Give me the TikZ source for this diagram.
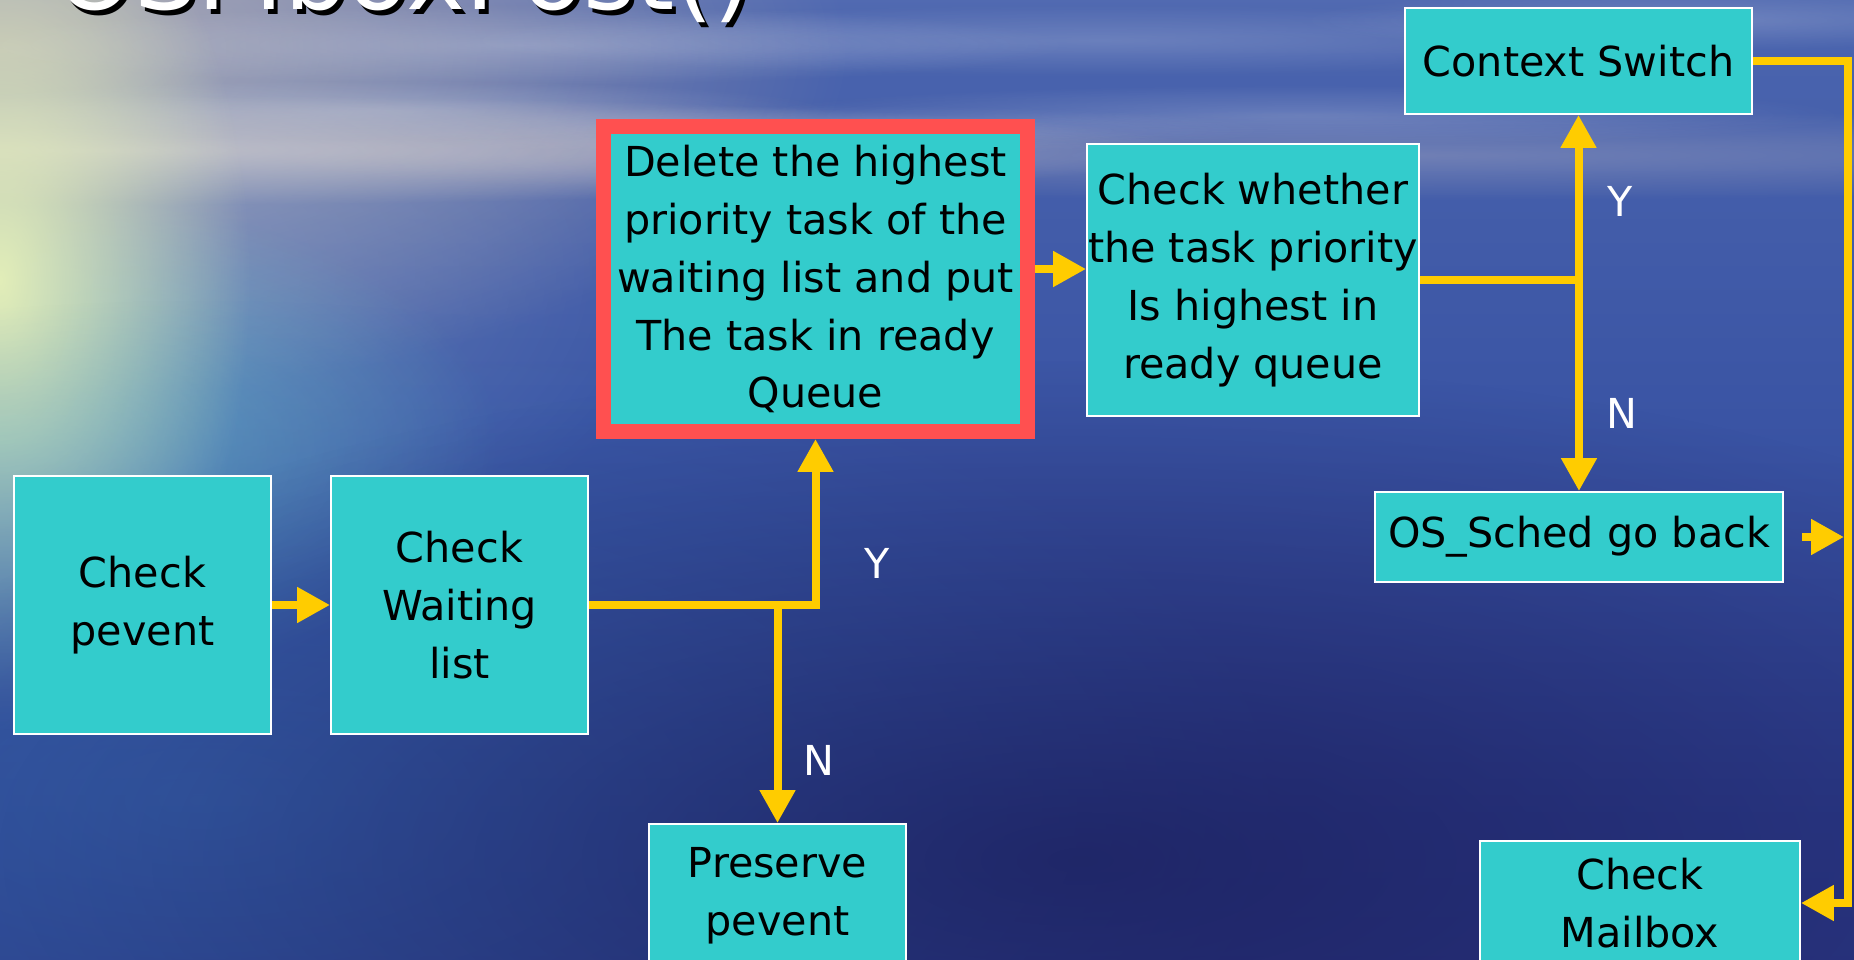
\documentclass[tikz,border=0pt]{standalone}
\usepackage{fontspec}
\setmainfont{DejaVu Sans}
\usetikzlibrary{arrows.meta,fadings,calc}

% palette
\definecolor{boxcyan}{HTML}{33CCCC}
\definecolor{hotred}{HTML}{FF5050}
\definecolor{arrowgold}{HTML}{FFCC00}
\definecolor{sk0}{HTML}{5A68BC}
\definecolor{sk1}{HTML}{5A6ABA}
\definecolor{sk2}{HTML}{A2A6CC}
\definecolor{sk3}{HTML}{6C80BC}
\definecolor{sk4}{HTML}{4A64AE}
\definecolor{sk5}{HTML}{3A54A4}
\definecolor{sk6}{HTML}{2C3C8C}
\definecolor{sk7}{HTML}{262C74}
\definecolor{sunglow}{HTML}{E8F2B8}
\definecolor{tealglow}{HTML}{70CACA}
\definecolor{mistblue}{HTML}{8EA6C8}
\definecolor{hazeglow}{HTML}{C4B8B4}
\definecolor{horizonlight}{HTML}{F2E2D4}
\definecolor{deepsea}{HTML}{1A1C58}
\definecolor{shoreblue}{HTML}{3A70B8}

% sky and sea, bottom (0bp) to top (100bp)
\pgfdeclareverticalshading{seasky}{100bp}{
  color(0bp)=(sk7); color(32.3bp)=(sk6); color(53.1bp)=(sk5);
  color(72.9bp)=(sk4); color(83.3bp)=(sk3); color(84.6bp)=(sk2);
  color(86.5bp)=(sk1); color(100bp)=(sk0)}

% radial fade: opaque centre, clear at half the radius
\tikzfading[name=softglow, inner color=transparent!0, outer color=transparent!100]

\begin{document}
\begin{tikzpicture}[x=0.02cm, y=-0.02cm,
  box/.style={draw=white, line width=1.1pt, fill=boxcyan, inner sep=0pt,
    align=center, text=black, font=\fontsize{23.5}{33}\selectfont},
  redbox/.style={box, draw=hotred, line width=0.3cm},
  flow/.style={draw=arrowgold, line width=0.16cm},
  tip/.style={-{Triangle[length=0.66cm, width=0.68cm]}},
  lab/.style={text=white, inner sep=0pt, font=\fontsize{23.5}{33}\selectfont},
  headline/.style={anchor=base west, inner sep=0pt, font=\fontsize{57}{60}\selectfont},
  glow/.style={path fading=softglow, fill opacity=#1},
  glow/.default=0.6]

\useasboundingbox (0,0) rectangle (1854,960);
\clip (0,0) rectangle (1854,960);

% backdrop: sky, horizon and sea
\shade[shading=seasky] (0,0) rectangle (1854,960);
\fill[hazeglow, glow=0.9] (0,50) ellipse [x radius=17cm, y radius=7cm];
\fill[white, glow=0.22] (520,45) ellipse [x radius=11cm, y radius=0.8cm];
\fill[white, glow=0.22] (380,110) ellipse [x radius=9cm, y radius=0.6cm];
\fill[white, glow=0.18] (1100,40) ellipse [x radius=13cm, y radius=0.7cm];
\fill[white, glow=0.18] (1300,115) ellipse [x radius=11cm, y radius=0.6cm];
\fill[white, glow=0.15] (820,130) ellipse [x radius=9cm, y radius=0.5cm];
\fill[white, glow=0.18] (1700,20) ellipse [x radius=8cm, y radius=0.6cm];
\fill[horizonlight, glow=0.7] (100,150) ellipse [x radius=22cm, y radius=1.1cm];
\fill[horizonlight, glow=0.25] (1400,155) ellipse [x radius=24cm, y radius=0.9cm];
\fill[mistblue, glow=0.55] (40,270) ellipse [x radius=13cm, y radius=7cm];
\fill[tealglow, glow=0.75] (0,440) ellipse [x radius=10cm, y radius=5cm];
\fill[sunglow, glow=0.95] (0,280) ellipse [x radius=5cm, y radius=9cm];
\fill[shoreblue, glow=0.65] (200,800) ellipse [x radius=22cm, y radius=10cm];
\fill[deepsea, glow=0.7] (1080,860) ellipse [x radius=26cm, y radius=10cm];

% title, mostly above the frame
\node[headline, text=black] (titleshadow) at (59,14) {OSMboxPost()};
\node[headline, text=white] (title) at (55,10) {OSMboxPost()};

% process boxes
\node[box, minimum width=5.14cm, minimum height=5.16cm] (pev) at (142.5,605) {Check\\pevent};
\node[box, minimum width=5.14cm, minimum height=5.16cm] (wait) at (459.5,605) {Check\\Waiting\\list};
\node[redbox, minimum width=8.48cm, minimum height=6.1cm] (del) at (815.5,279)
  {Delete the highest\\priority task of the\\waiting list and put\\The task in ready\\Queue};
\node[box, minimum width=6.64cm, minimum height=5.44cm] (chk) at (1253,280)
  {Check whether\\the task priority\\Is highest in\\ready queue};
\node[box, minimum width=6.94cm, minimum height=2.12cm] (ctx) at (1578.5,61) {Context Switch};
\node[box, minimum width=8.16cm, minimum height=1.8cm] (os) at (1579,537) {OS\_Sched go back};
\node[box, minimum width=6.4cm, minimum height=2.48cm] (mbx) at (1640,903) {Check\\Mailbox};
\node[box, minimum width=5.14cm, minimum height=2.88cm] (pres) at (777.5,896) {Preserve\\pevent};

% connectors
\coordinate (rail) at (1848,0);
\draw[flow, tip] (pev.east) -- (wait.west);
\draw[flow, tip] (wait.east) -- (wait.east -| del.south) -- (del.south);
\draw[flow, tip] (pres.north |- wait.east) -- (pres.north);
\path ([yshift=0.2cm]del.east) coordinate (dout);
\draw[flow, tip] (dout) -- (dout -| chk.west);
\draw[flow] (chk.east) -- (chk.east -| ctx.south);
\draw[flow, tip] (chk.east -| ctx.south) -- (ctx.south);
\draw[flow, tip] (chk.east -| os.north) -- (os.north);
\draw[flow, tip] (ctx.east) -- (ctx.east -| rail) -- (rail |- mbx.east) -- (mbx.east);
\draw[flow, tip, shorten >=0.08cm] ([xshift=0.36cm]os.east) -- (os.east -| rail);

% branch labels
\node[lab] (ylow) at (877,563) {Y};
\node[lab] (nlow) at (819,760) {N};
\node[lab] (yhigh) at (1620,201) {Y};
\node[lab] (nhigh) at (1622,413) {N};
\end{tikzpicture}
\end{document}
